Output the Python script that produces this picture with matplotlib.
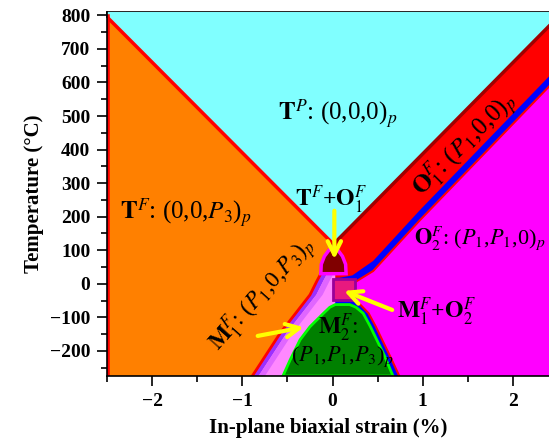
import matplotlib
matplotlib.use("Agg")
import matplotlib.pyplot as plt
from matplotlib.patches import Polygon, Rectangle
from matplotlib.ticker import MultipleLocator

plt.rcParams['font.family'] = ['Liberation Serif', 'DejaVu Serif']
plt.rcParams['mathtext.fontset'] = 'stix'

# axis ranges: in-plane strain (%) and temperature (C)
x_min, x_max = -2.5, 2.4
t_min, t_max = -275, 810

# T^P boundary (left end, apex, right end)
tc_strain = [-2.5, 0.01, 2.4]
tc_temp = [795, 118, 768]

# lower edge of the O1 band (red -> blue), right to left
o1_low_strain = [2.4, 0.97, 0.45, 0.22, 0.08]
o1_low_temp = [618, 220, 68, 25, 18]

# left edge of the O2 (magenta) region, top to bottom
o2_edge_strain = [2.4, 0.97, 0.45, 0.25, 0.25, 0.31, 0.40, 0.48, 0.55, 0.64, 0.74]
o2_edge_temp = [588, 190, 38, 5, -48, -63, -88, -128, -167, -217, -275]

# orange / M1 boundary, top to bottom
m1_left_strain = [-0.13, -0.17, -0.25, -0.58, -0.89]
m1_left_temp = [30, 10, -33, -147, -275]

# M2 (green) outline, left bottom -> over the top -> right bottom
m2_strain = [-0.55, -0.47, -0.36, -0.25, -0.10, -0.03, 0.03, 0.19, 0.26, 0.34, 0.42, 0.49, 0.58, 0.67]
m2_temp = [-275, -227, -167, -128, -88, -70, -62, -62, -70, -88, -128, -167, -217, -275]

# T+O1 pocket (dark red arch)
arch_strain = [-0.13, -0.125, -0.09, -0.04, 0.01, 0.06, 0.11, 0.145, 0.15]
arch_temp = [30, 58, 82, 100, 110, 100, 82, 58, 30]

# M1+O2 box: strain range and temperature range
box_strain = [0.0, 0.25]
box_temp = [-48, 14]

fig = plt.figure(figsize=(5.49, 4.45), dpi=100)
ax = fig.add_axes([0.195, 0.155, 0.805, 0.818])
ax.set_facecolor('#ff00ff')


def pts(xs, ys):
    return list(zip(xs, ys))


# blue strip left of O2
blue = pts(o2_edge_strain, o2_edge_temp) + [(x_min, t_min), (x_min, t_max), (x_max, t_max)]
ax.add_patch(Polygon(blue, closed=True, facecolor='#0000ff', edgecolor='none', zorder=1))
ax.plot(o2_edge_strain, o2_edge_temp, color='#ff0000', lw=1.5, zorder=2)

# O1 red band
o1 = [(x_max, t_max)] + pts(o1_low_strain, o1_low_temp) + [(0.0, 18), (0.0, t_max)]
ax.add_patch(Polygon(o1, closed=True, facecolor='#ff0000', edgecolor='none', zorder=2))

# cyan paraelectric region
cyan = pts(tc_strain, tc_temp) + [(x_max, t_max), (x_min, t_max)]
ax.add_patch(Polygon(cyan, closed=True, facecolor='#80ffff', edgecolor='none', zorder=3))

# orange T^F region
orange = [(x_min, t_min), (tc_strain[0], tc_temp[0]), (tc_strain[1], tc_temp[1])] \
    + pts(m1_left_strain, m1_left_temp)
ax.add_patch(Polygon(orange, closed=True, facecolor='#ff8000', edgecolor='none', zorder=4))

# M1 strip with its inner bands
m1 = pts(m1_left_strain, m1_left_temp) + pts(m2_strain[:7], m2_temp[:7]) + [(0.03, 30)]
ax.add_patch(Polygon(m1, closed=True, facecolor='#ff88ff', edgecolor='none', zorder=5))
for d0, d1, col in [(0.0, 0.07, '#9b30ff'), (0.07, 0.14, '#e066ff')]:
    band = [(x + d0, t) for x, t in pts(m1_left_strain, m1_left_temp)]
    band += [(x + d1, t) for x, t in pts(m1_left_strain, m1_left_temp)][::-1]
    ax.add_patch(Polygon(band, closed=True, facecolor=col, edgecolor='none', zorder=6))

# M2 green region
ax.add_patch(Polygon(pts(m2_strain, m2_temp), closed=True, facecolor='#008000',
                     edgecolor='#00ff00', lw=2, zorder=7))

# M1+O2 box
ax.add_patch(Rectangle((box_strain[0], box_temp[0]), box_strain[1] - box_strain[0],
                       box_temp[1] - box_temp[0], facecolor='#e8197f',
                       edgecolor='#990099', lw=2, zorder=8))

# T+O1 pocket
ax.add_patch(Polygon(pts(arch_strain, arch_temp), closed=True, facecolor='#800000',
                     edgecolor='#ff00ff', lw=2.5, zorder=9))

# boundary lines
ax.plot(tc_strain[:2], tc_temp[:2], color='#ff0000', lw=2.5, zorder=8)
ax.plot(tc_strain[1:], tc_temp[1:], color='#a00000', lw=2.5, zorder=8)
ax.plot(m1_left_strain, m1_left_temp, color='#ff0000', lw=2, zorder=8)
ax.plot([x_min, x_min], [t_min, tc_temp[0]], color='#ff0000', lw=4, zorder=8)

# phase labels
kw = dict(va='center', zorder=10)
ax.text(0.06, 506, r'$\mathbf{T}^{P}$: (0,0,0)$_{p}$', ha='center', fontsize=18, **kw)
ax.text(-1.62, 211, r'$\mathbf{T}^{F}$: (0,0,$P_3$)$_{p}$', ha='center', fontsize=18, **kw)
ax.text(-0.02, 250, r'$\mathbf{T}^{F}$+$\mathbf{O}_1^{F}$', ha='center', fontsize=17,
        fontweight='bold', **kw)
ax.text(1.46, 414, r'$\mathbf{O}_1^{F}$: ($P_1$,0,0)$_{p}$', ha='center', fontsize=18,
        rotation=45, rotation_mode='anchor', **kw)
ax.text(0.90, 135, r'$\mathbf{O}_2^{F}$: ($P_1$,$P_1$,0)$_{p}$', ha='left', fontsize=16, **kw)
ax.text(0.72, -85, r'$\mathbf{M}_1^{F}$+$\mathbf{O}_2^{F}$', ha='left', fontsize=17,
        fontweight='bold', **kw)
ax.text(0.06, -132, r'$\mathbf{M}_2^{F}$:', ha='center', fontsize=17, **kw)
ax.text(0.11, -218, r'($P_1$,$P_1$,$P_3$)$_{p}$', ha='center', fontsize=16, **kw)
ax.text(-0.78, -33, r'$\mathbf{M}_1^{F}$: ($P_1$,0,$P_3$)$_{p}$', ha='center', fontsize=17,
        rotation=48, rotation_mode='anchor', **kw)

# yellow arrows
arrow = dict(arrowstyle='->', color='#ffff00', lw=3, mutation_scale=24)
ax.annotate('', xy=(0.02, 65), xytext=(0.02, 226), arrowprops=arrow, zorder=11)
ax.annotate('', xy=(0.10, -18), xytext=(0.69, -81), arrowprops=arrow, zorder=11)
ax.annotate('', xy=(-0.29, -128), xytext=(-0.86, -157), arrowprops=arrow, zorder=11)

ax.set_xlim(x_min, x_max)
ax.set_ylim(t_min, t_max)
ax.spines['right'].set_visible(False)
ax.spines['top'].set_visible(False)
for s in ax.spines.values():
    s.set_linewidth(1.2)
    s.set_zorder(12)

ax.xaxis.set_major_locator(MultipleLocator(1))
ax.xaxis.set_minor_locator(MultipleLocator(0.5))
ax.yaxis.set_major_locator(MultipleLocator(100))
ax.yaxis.set_minor_locator(MultipleLocator(50))
ax.tick_params(which='both', direction='out', width=1.2)
ax.tick_params(which='major', length=7, pad=5, labelsize=14)
ax.tick_params(which='minor', length=4)
for lab in ax.get_xticklabels() + ax.get_yticklabels():
    lab.set_fontweight('bold')

top = ax.secondary_xaxis('top')
top.xaxis.set_major_locator(MultipleLocator(1))
top.xaxis.set_minor_locator(MultipleLocator(0.5))
top.tick_params(which='both', direction='in', labeltop=False, width=1.2)
top.tick_params(which='major', length=7)
top.tick_params(which='minor', length=4)
top.spines['top'].set_linewidth(1.2)

ax.set_xlabel('In-plane biaxial strain (%)', fontsize=15, fontweight='bold', labelpad=6)
ax.set_ylabel('Temperature (\u00b0C)', fontsize=15, fontweight='bold', labelpad=4)

fig.savefig('out.png', dpi=100)
